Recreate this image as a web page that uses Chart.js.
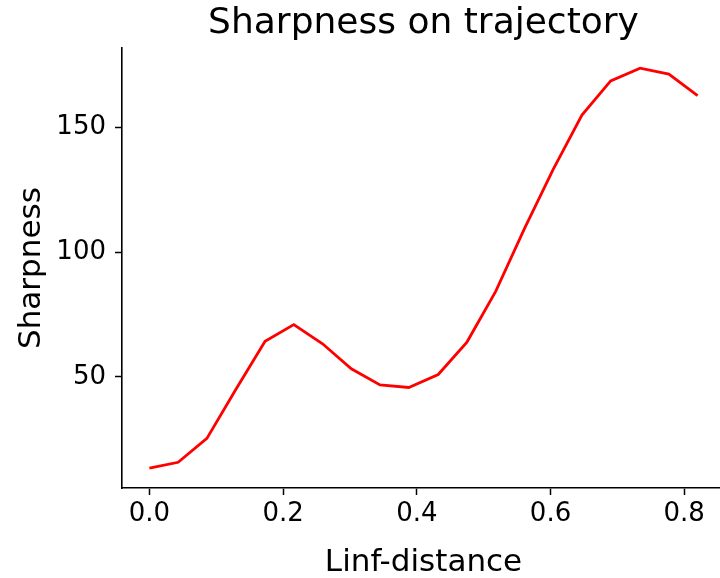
<!DOCTYPE html>
<html>
<head>
<meta charset="utf-8">
<script src="https://cdn.jsdelivr.net/npm/chart.js@4"></script>
<style>
  html, body { margin: 0; padding: 0; background: #fff; overflow: hidden; }
  #wrap { width: 725px; height: 578px; }
</style>
</head>
<body>
<div id="wrap"><canvas id="sharpChart" width="725" height="578"></canvas></div>
<script>
  // data
  const distances = [0, 0.043, 0.086, 0.129, 0.173, 0.216, 0.259, 0.302, 0.345, 0.388,
                     0.432, 0.475, 0.518, 0.561, 0.604, 0.647, 0.690, 0.734, 0.777, 0.820];
  const sharpness = [13.5, 15.8, 25.4, 44.9, 64.3, 71.0, 63.3, 53.3, 46.8, 45.8,
                     51.0, 64.0, 84.3, 109.5, 133.2, 155.0, 168.7, 173.8, 171.4, 162.8];
  const xTicks = [0, 0.2, 0.4, 0.6, 0.8];
  const yTicks = [50, 100, 150];

  const FONT = 'DejaVu Sans';

  const ctx = document.getElementById('sharpChart').getContext('2d');
  const sharpChart = new Chart(ctx, {
    type: 'line',
    data: {
      datasets: [{
        label: 'Sharpness',
        data: distances.map((d, i) => ({ x: d, y: sharpness[i] })),
        borderColor: '#ff0000',
        backgroundColor: '#ff0000',
        borderWidth: 2.8,
        pointRadius: 0,
        tension: 0,
        fill: false
      }]
    },
    options: {
      responsive: false,
      animation: false,
      layout: { padding: 0 },
      plugins: {
        legend: { display: false },
        tooltip: { enabled: false },
        title: {
          display: true,
          text: 'Sharpness on trajectory',
          fullSize: false,
          color: '#000',
          font: { family: FONT, size: 36, weight: 'normal', lineHeight: 1.2 },
          padding: { top: 2, bottom: 3 }
        }
      },
      scales: {
        x: {
          type: 'linear',
          min: -0.041,
          max: 0.861,
          afterBuildTicks: s => { s.ticks = xTicks.map(v => ({ value: v })); },
          afterFit: s => { s.height = 90; },
          grid: { drawOnChartArea: false, drawTicks: true, tickLength: 7, tickWidth: 1.5, color: '#000', tickColor: '#000' },
          border: { display: true, color: '#000', width: 1.6 },
          ticks: {
            color: '#000',
            font: { family: FONT, size: 26 },
            padding: 4,
            maxRotation: 0,
            autoSkip: false,
            callback: v => v.toFixed(1)
          },
          title: {
            display: true,
            text: 'Linf-distance',
            color: '#000',
            font: { family: FONT, size: 31, lineHeight: 1 },
            padding: { top: 0, bottom: 0 }
          }
        },
        y: {
          min: 5.5,
          max: 181.8,
          afterBuildTicks: s => { s.ticks = yTicks.map(v => ({ value: v })); },
          afterFit: s => { s.width = 122; },
          grid: { drawOnChartArea: false, drawTicks: true, tickLength: 7, tickWidth: 1.5, color: '#000', tickColor: '#000' },
          border: { display: true, color: '#000', width: 1.6 },
          ticks: {
            color: '#000',
            font: { family: FONT, size: 26 },
            padding: 9,
            autoSkip: false
          },
          title: {
            display: true,
            text: 'Sharpness',
            color: '#000',
            font: { family: FONT, size: 31, lineHeight: 1.2 },
            padding: { top: 13, bottom: 0 }
          }
        }
      }
    }
  });
</script>
</body>
</html>
